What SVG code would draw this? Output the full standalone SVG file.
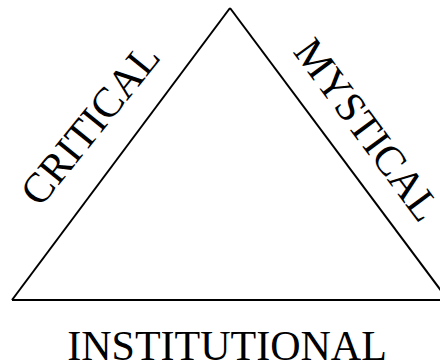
<svg xmlns="http://www.w3.org/2000/svg" width="440" height="364" viewBox="0 0 440 364">
<style>
.lbl{font-family:"Liberation Serif","Times New Roman",serif;font-size:42px;fill:#000;text-anchor:middle}
.edge{stroke:#000;stroke-width:2;fill:none}
</style>
<rect width="440" height="364" fill="#fff"/>
<g id="connectors">
<line class="edge" x1="230" y1="8" x2="12" y2="300"/>
<line class="edge" x1="230" y1="8" x2="448" y2="300"/>
<line class="edge" x1="12" y1="300" x2="448" y2="300" stroke-width="3"/>
</g>
<g id="critical"><text class="lbl" transform="translate(101,133) rotate(-51)">CRITICAL</text></g>
<g id="mystical"><text class="lbl" transform="translate(356,138) rotate(53.5)">MYSTICAL</text></g>
<g id="institutional"><text class="lbl" x="227" y="360">INSTITUTIONAL</text></g>
</svg>
